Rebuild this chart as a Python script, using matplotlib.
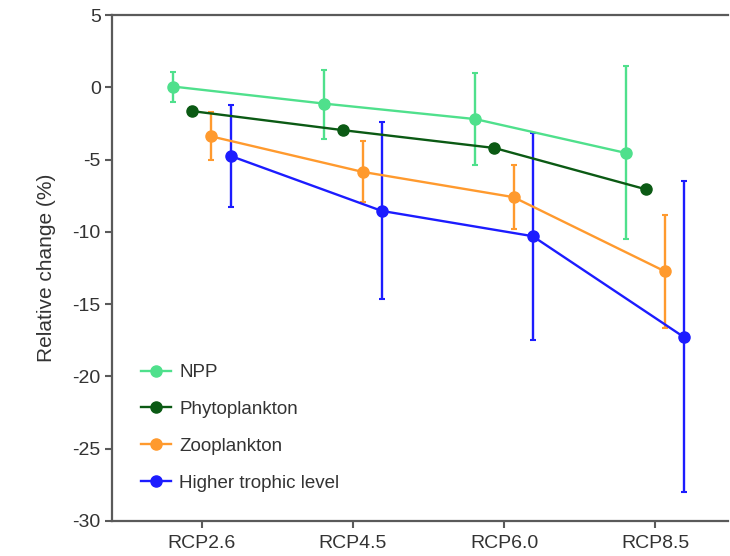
import matplotlib
matplotlib.use("Agg")
import matplotlib.pyplot as plt
from matplotlib.lines import Line2D
import numpy as np

plt.rcParams["font.family"] = ["Liberation Sans", "DejaVu Sans"]
plt.rcParams["axes.unicode_minus"] = False

# ── Data ────────────────────────────────────────────────────────────────────
scenarios = ["RCP2.6", "RCP4.5", "RCP6.0", "RCP8.5"]
series = ["NPP", "Phytoplankton", "Zooplankton", "Higher trophic level"]

npp_mean = [0.05, -1.13, -2.2, -4.55]
npp_hi = [1.05, 1.2, 1.0, 1.45]
npp_lo = [-1.0, -3.55, -5.35, -10.5]

phyto_mean = [-1.65, -2.97, -4.2, -7.05]
phyto_hi = [-1.35, -2.85, -4.05, -6.85]
phyto_lo = [-1.95, -3.1, -4.35, -7.25]

zoo_mean = [-3.4, -5.85, -7.6, -12.72]
zoo_hi = [-1.7, -3.73, -5.4, -8.8]
zoo_lo = [-5.0, -7.93, -9.77, -16.65]

htl_mean = [-4.75, -8.55, -10.3, -17.27]
htl_hi = [-1.2, -2.4, -3.16, -6.48]
htl_lo = [-8.3, -14.66, -17.45, -28.0]

means = [npp_mean, phyto_mean, zoo_mean, htl_mean]
highs = [npp_hi, phyto_hi, zoo_hi, htl_hi]
lows = [npp_lo, phyto_lo, zoo_lo, htl_lo]
colors = ["#4fe08c", "#0b5a14", "#ff9a2e", "#1c1cff"]
offsets = [-0.19, -0.063, 0.063, 0.19]

# ── Plot ────────────────────────────────────────────────────────────────────
fig = plt.figure(figsize=(7.3, 5.56), dpi=100)
ax = fig.add_axes([0.1534, 0.063, 0.8438, 0.91])

x = np.arange(len(scenarios))
handles = []
for name, m, hi, lo, c, off in zip(series, means, highs, lows, colors, offsets):
    m = np.array(m)
    yerr = [m - np.array(lo), np.array(hi) - m]
    ax.errorbar(x + off, m, yerr=yerr, color=c, lw=1.7, elinewidth=1.7,
                capsize=2.2, capthick=1.5, marker="o", markersize=8)
    handles.append(Line2D([], [], color=c, lw=1.7, marker="o",
                          markersize=8, label=name))

ax.set_xlim(-0.596, 3.483)
ax.set_ylim(-30, 5)
ax.set_xticks(x)
ax.set_xticklabels(scenarios)
ax.set_yticks(np.arange(-30, 6, 5))

spine_c = "#5a5a5a"
for s in ["left", "top", "bottom"]:
    ax.spines[s].set_color(spine_c)
    ax.spines[s].set_linewidth(1.6)
ax.spines["right"].set_visible(False)
ax.tick_params(axis="both", colors=spine_c, labelcolor="#333333",
               labelsize=14, length=5, width=1.5, pad=3)
ax.tick_params(axis="x", pad=5)

ax.set_ylabel("Relative change (%)", fontsize=15, color="#333333", labelpad=12)

leg = ax.legend(handles=handles, loc="upper left", bbox_to_anchor=(0.047, 0.31),
                frameon=False, fontsize=13.5, handlelength=1.6,
                handletextpad=0.45, labelspacing=1.05, borderpad=0,
                borderaxespad=0)
for t in leg.get_texts():
    t.set_color("#333333")

fig.savefig("out.png", dpi=100)
